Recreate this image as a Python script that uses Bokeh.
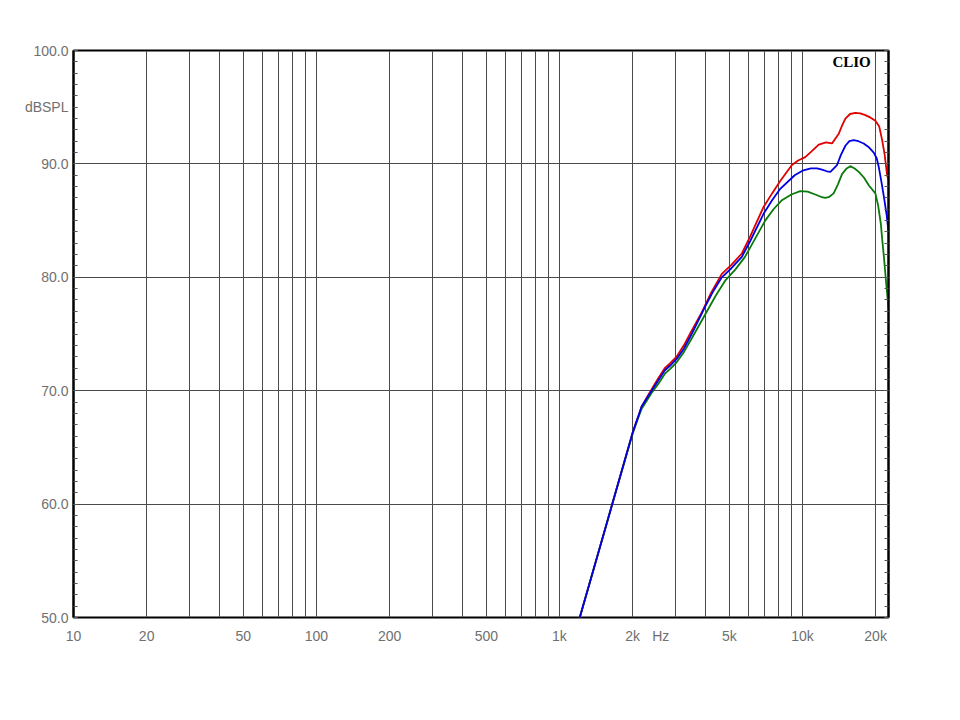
from bokeh.plotting import figure
from bokeh.models import FixedTicker, LinearAxis, Range1d, Label
from bokeh.embed import file_html
from bokeh.resources import INLINE

# ---- data ----
red_f = [1190, 1212, 1639, 2000, 2100, 2178, 2300, 2393, 2550, 2716, 2850, 3034, 3250, 3500, 3851,
         4200, 4656, 5100, 5630, 6095, 6917, 7500, 8100, 9050, 9600, 10270, 10900, 11670, 12500,
         13230, 14100, 14500, 15020, 15700, 16510, 17300, 18150, 19000, 19960, 20700, 21280,
         21800, 22300, 22600]
red_db = [49.3, 50.0, 59.8, 66.3, 67.6, 68.6, 69.5, 70.1, 71.1, 72.0, 72.4, 73.0, 74.0, 75.3, 76.9,
          78.6, 80.3, 81.1, 82.1, 83.6, 86.2, 87.4, 88.5, 89.9, 90.3, 90.6, 91.1, 91.7, 91.9,
          91.8, 92.65, 93.3, 94.0, 94.4, 94.5, 94.45, 94.3, 94.1, 93.8, 93.3, 92.1,
          90.8, 89.0, 88.6]

blue_f = [1190, 1212, 1639, 2000, 2100, 2178, 2300, 2393, 2550, 2716, 2850, 3034, 3250, 3500, 3972,
          4300, 4656, 5100, 5630, 6095, 6917, 7500, 8100, 9290, 10000, 10830, 11500, 12030, 12600,
          13030, 13880, 14400, 15020, 15600, 16240, 17000, 17860, 18700, 19650, 20200, 20620,
          21100, 21640, 22200, 22600]
blue_db = [49.3, 50.0, 59.8, 66.3, 67.6, 68.6, 69.4, 70.0, 70.9, 71.8, 72.2, 72.8, 73.7, 75.0, 77.4,
           78.8, 80.0, 80.8, 81.8, 83.2, 85.6, 86.8, 87.8, 89.0, 89.4, 89.6, 89.6, 89.5, 89.35,
           89.3, 89.9, 90.8, 91.6, 92.0, 92.1, 92.0, 91.8, 91.5, 91.0, 90.5, 89.7,
           88.5, 87.1, 85.5, 84.0]

green_f = [1190, 1212, 1639, 2000, 2100, 2178, 2300, 2393, 2550, 2716, 2850, 3034, 3250, 3500, 3972,
           4400, 4806, 5300, 5800, 7025, 7600, 8233, 9000, 9790, 10500, 11290, 11900, 12420, 12900,
           13440, 14000, 14550, 15200, 15740, 16400, 17050, 17900, 18770, 19960, 20500, 21020,
           21300, 21640, 22100, 22600]
green_db = [49.3, 50.0, 59.8, 66.2, 67.5, 68.4, 69.2, 69.8, 70.6, 71.5, 71.9, 72.5, 73.4, 74.6, 76.7,
            78.4, 79.7, 80.7, 81.8, 85.0, 86.0, 86.8, 87.3, 87.6, 87.55, 87.3, 87.1, 87.0, 87.1,
            87.4, 88.2, 89.1, 89.6, 89.8, 89.6, 89.3, 88.8, 88.1, 87.4, 86.3, 84.7,
            83.3, 81.8, 79.5, 77.3]

x_ticks = [10, 20, 50, 100, 200, 500, 1000, 2000, 2612, 5000, 10000, 20000]
x_tick_labels = ["10", "20", "50", "100", "200", "500", "1k", "2k", "Hz", "5k", "10k", "20k"]
y_ticks = [50, 60, 70, 80, 90, 95, 100]
y_tick_labels = ["50.0", "60.0", "70.0", "80.0", "90.0", "dBSPL", "100.0"]

x_grid = [m * d for d in (10, 100, 1000, 10000) for m in range(1, 10) if m * d <= 20000]
y_grid = [60, 70, 80, 90]

FONT = "Liberation Sans"
LABEL_COLOR = "#707070"

p = figure(width=948, height=708, x_axis_type="log",
           x_range=Range1d(10, 22600), y_range=Range1d(50, 100),
           output_backend="svg", toolbar_location=None,
           min_border_left=73, min_border_right=60, min_border_top=50, min_border_bottom=91)

p.background_fill_color = "white"
p.border_fill_color = "white"
p.outline_line_color = "black"
p.outline_line_width = 2

# grids
p.xgrid.ticker = FixedTicker(ticks=x_grid)
p.ygrid.ticker = FixedTicker(ticks=y_grid)
for g in (p.xgrid, p.ygrid):
    g.grid_line_color = "#4a4a4a"
    g.grid_line_width = 1

# bottom axis
xa = p.xaxis[0]
xa.ticker = FixedTicker(ticks=x_ticks)
xa.major_label_overrides = {t: l for t, l in zip(x_ticks, x_tick_labels)}
xa.axis_line_color = None
xa.major_tick_line_color = None
xa.minor_tick_line_color = None
xa.major_label_standoff = 4
xa.major_label_text_font = FONT
xa.major_label_text_font_size = "14px"
xa.major_label_text_color = LABEL_COLOR

# left axis
ya = p.yaxis[0]
ya.ticker = FixedTicker(ticks=y_ticks, minor_ticks=list(range(50, 101)))
ya.major_label_overrides = {t: l for t, l in zip(y_ticks, y_tick_labels)}
ya.axis_line_color = "black"
ya.axis_line_width = 2
ya.major_tick_in = 4
ya.major_tick_out = 0
ya.minor_tick_in = 4
ya.minor_tick_out = 0
ya.major_tick_line_color = "#555555"
ya.minor_tick_line_color = "#555555"
ya.major_label_standoff = 5
ya.major_label_text_font = FONT
ya.major_label_text_font_size = "14px"
ya.major_label_text_color = LABEL_COLOR

# right axis (ticks only)
ra = LinearAxis(ticker=FixedTicker(ticks=[50, 60, 70, 80, 90, 100], minor_ticks=list(range(50, 101))))
ra.major_label_text_color = None
ra.axis_line_color = "black"
ra.axis_line_width = 2
ra.major_tick_in = 4
ra.major_tick_out = 0
ra.minor_tick_in = 4
ra.minor_tick_out = 0
ra.major_tick_line_color = "#555555"
ra.minor_tick_line_color = "#555555"
p.add_layout(ra, "right")

# curves
p.line(red_f, red_db, line_color="#e00000", line_width=1.8)
p.line(green_f, green_db, line_color="#0a7a0a", line_width=1.8)
p.line(blue_f, blue_db, line_color="#0000e6", line_width=1.8)

# CLIO mark
p.add_layout(Label(x=19100, y=98.95, text="CLIO", text_align="right", text_baseline="middle",
                   text_font="Liberation Serif", text_font_style="bold",
                   text_font_size="15px", text_color="black"))

open("out.html", "w").write(file_html(p, INLINE))
